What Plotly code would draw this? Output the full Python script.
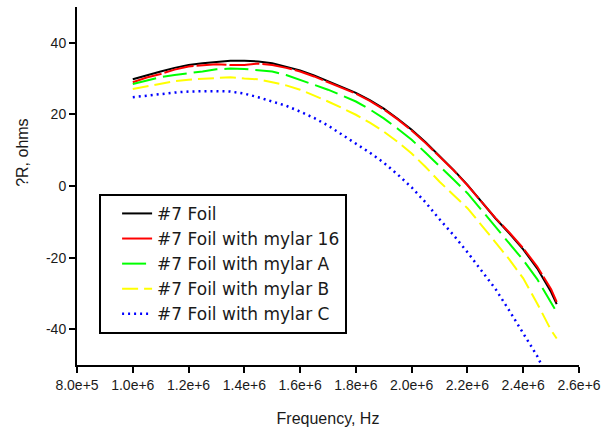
import plotly.graph_objects as go

freq = [1.00e6, 1.05e6, 1.10e6, 1.15e6, 1.20e6, 1.25e6, 1.30e6, 1.35e6, 1.40e6, 1.45e6,
        1.50e6, 1.55e6, 1.60e6, 1.65e6, 1.70e6, 1.75e6, 1.80e6, 1.85e6, 1.90e6, 1.95e6,
        2.00e6, 2.05e6, 2.10e6, 2.15e6, 2.20e6, 2.25e6, 2.30e6, 2.35e6, 2.40e6, 2.45e6,
        2.50e6, 2.52e6]

foil = [29.8, 31.0, 32.0, 33.0, 33.8, 34.3, 34.7, 35.0, 35.0, 34.8,
        34.3, 33.4, 32.3, 30.9, 29.3, 27.8, 26.0, 24.0, 21.6, 18.8,
        15.7, 12.2, 8.4, 4.5, 0.3, -4.3, -9.0, -13.2, -17.7, -23.0,
        -29.6, -33.0]

mylar16 = [29.0, 30.3, 31.3, 32.5, 33.4, 33.8, 34.0, 33.8, 33.8, 34.2,
           33.8, 33.0, 32.0, 30.6, 29.0, 27.5, 25.8, 23.8, 21.4, 18.6,
           15.5, 12.0, 8.3, 4.4, 0.2, -4.3, -8.9, -13.0, -17.4, -22.5,
           -28.8, -32.4]

mylarA = [28.5, 29.5, 30.4, 31.0, 31.4, 32.0, 32.6, 32.8, 32.7, 32.4,
          32.0, 31.0, 29.7, 28.4, 26.9, 25.3, 23.6, 21.4, 18.9, 16.0,
          12.9, 9.3, 5.4, 1.8, -2.0, -6.6, -11.4, -16.0, -20.7, -26.0,
          -32.8, -35.2]

mylarB = [27.1, 27.9, 28.7, 29.3, 29.7, 30.0, 30.3, 30.4, 30.0, 29.8,
          29.0, 28.1, 26.9, 25.3, 23.6, 21.8, 19.9, 17.7, 15.2, 12.3,
          9.1, 5.3, 1.2, -2.5, -6.2, -10.9, -15.6, -20.5, -25.8, -32.8,
          -40.3, -42.6]

mylarC = [24.8, 25.3, 25.7, 26.1, 26.4, 26.5, 26.5, 26.4, 25.8, 24.8,
          23.6, 22.4, 20.8, 19.0, 16.9, 14.4, 11.7, 9.3, 6.5, 3.2,
          -0.4, -4.6, -9.3, -13.7, -18.5, -23.5, -28.7, -34.8, -41.0, -47.5,
          -55.5, -58.0]

series_names = ["#7 Foil", "#7 Foil with mylar 16", "#7 Foil with mylar A",
                "#7 Foil with mylar B", "#7 Foil with mylar C"]

y_tickvals = [-40, -20, 0, 20, 40]
y_ticktext = ["-40", "-20", "0", "20", "40"]
x_tickvals = [8.0e5, 1.0e6, 1.2e6, 1.4e6, 1.6e6, 1.8e6, 2.0e6, 2.2e6, 2.4e6, 2.6e6]
x_ticktext = ["8.0e+5", "1.0e+6", "1.2e+6", "1.4e+6", "1.6e+6", "1.8e+6",
              "2.0e+6", "2.2e+6", "2.4e+6", "2.6e+6"]

styles = [
    dict(color="#000000", width=2, dash="solid"),
    dict(color="#ff0000", width=2, dash="30px,3px"),
    dict(color="#00ff00", width=2, dash="24px,7px"),
    dict(color="#ffff00", width=2, dash="16px,6px"),
    dict(color="#0000ff", width=2.5, dash="2px,4px"),
]

fig = go.Figure()
for name, ys, st in zip(series_names, [foil, mylar16, mylarA, mylarB, mylarC], styles):
    fig.add_trace(go.Scatter(x=freq, y=ys, mode="lines", name=name, line=st))

font_family = "Arial, Liberation Sans, sans-serif"
legend_family = "DejaVu Sans, Arial, sans-serif"

fig.update_layout(
    width=609, height=432,
    margin=dict(l=77, r=30, t=7, b=67),
    paper_bgcolor="white", plot_bgcolor="white",
    font=dict(family=font_family, color="#1a1a1a"),
    showlegend=True,
    legend=dict(
        x=0.044, y=0.478, xanchor="left", yanchor="top",
        bordercolor="black", borderwidth=2, bgcolor="white",
        font=dict(size=17, family=legend_family, color="#1a1a1a"),
        indentation=16,
        traceorder="normal",
    ),
    xaxis=dict(
        range=[8.0e5, 2.6e6], tickvals=x_tickvals, ticktext=x_ticktext,
        showline=True, linecolor="black", linewidth=2,
        ticks="outside", ticklen=6, tickwidth=2, tickcolor="black",
        showgrid=False, zeroline=False,
        tickfont=dict(size=14, family=font_family, color="#1a1a1a"),
        title=dict(text="Frequency, Hz", font=dict(size=16, family=font_family, color="#1a1a1a"),
                   standoff=21),
    ),
    yaxis=dict(
        range=[-50, 50], tickvals=y_tickvals, ticktext=y_ticktext,
        showline=True, linecolor="black", linewidth=2,
        ticks="outside", ticklen=6, tickwidth=2, tickcolor="black",
        showgrid=False, zeroline=False,
        tickfont=dict(size=14, family=font_family, color="#1a1a1a"),
    ),
    annotations=[
        dict(text="?R, ohms", xref="paper", yref="paper", x=-0.110, y=0.592,
             textangle=-90, showarrow=False, xanchor="center", yanchor="middle",
             font=dict(size=16, family=font_family, color="#1a1a1a")),
    ],
)

fig.write_html("out.html")
